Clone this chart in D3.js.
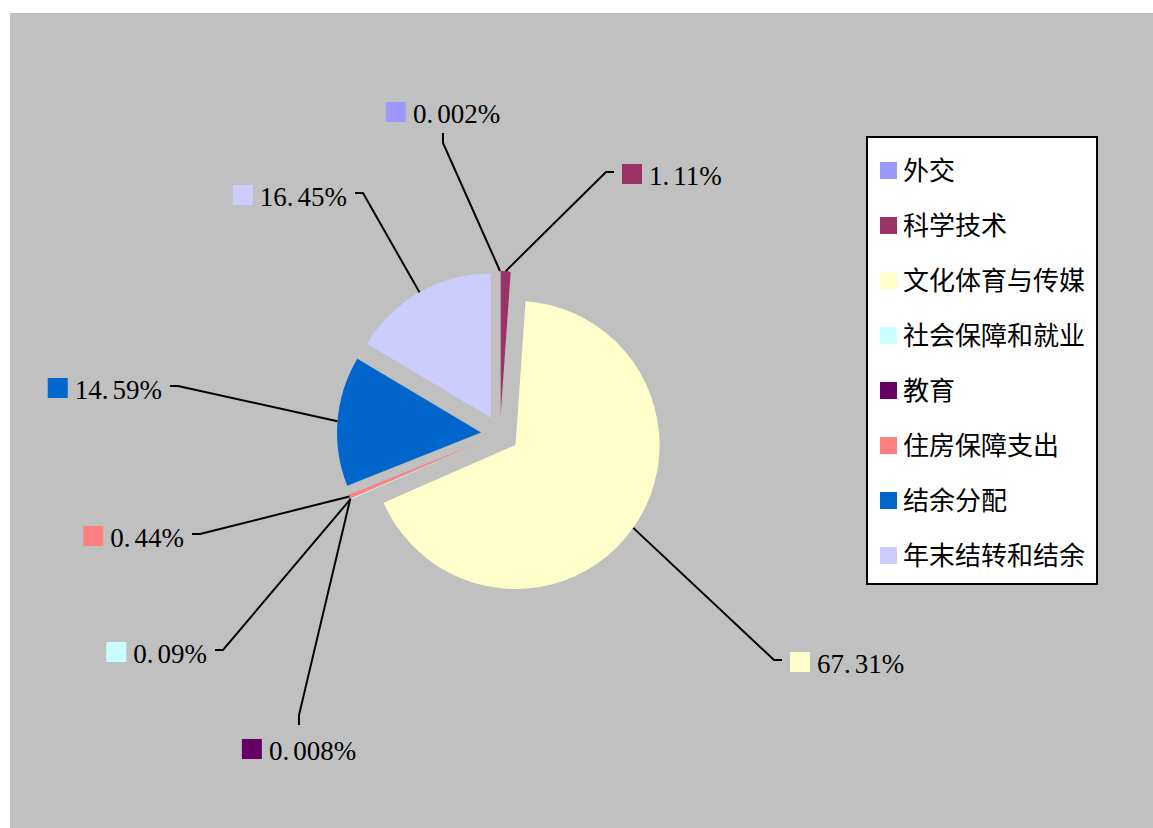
<!DOCTYPE html>
<html>
<head>
<meta charset="utf-8">
<script src="https://cdn.jsdelivr.net/npm/d3@7"></script>
<style>
  body { margin: 0; background: #fff; }
</style>
</head>
<body>
<div id="chart"></div>
<script>
// 数据
const categories = ["外交", "科学技术", "文化体育与传媒", "社会保障和就业", "教育", "住房保障支出", "结余分配", "年末结转和结余"];
const shares = [0.002, 1.11, 67.31, 0.09, 0.008, 0.44, 14.59, 16.45];
const shareLabels = ["0.002%", "1.11%", "67.31%", "0.09%", "0.008%", "0.44%", "14.59%", "16.45%"];
const sliceColors = ["#9999FF", "#993366", "#FFFFCC", "#CCFFFF", "#660066", "#FF8080", "#0066CC", "#CCCCFF"];

// where each leader line bends (relative to pie centre) and which way the stub points
const labelElbows = [
    [-57, -291, "up"],
    [106, -262, "right"],
    [274, 226, "right"],
    [-277, 216, "left"],
    [-201, 281, "down"],
    [-300, 100, "left"],
    [-322, -48, "left"],
    [-137, -241, "left"]
];

const W = 1153, H = 828;
const cx = 500, cy = 434, R = 144, explode = 19;

const svg = d3.select("#chart")
    .append("svg")
    .attr("width", W)
    .attr("height", H);

// plot background
svg.append("rect")
    .attr("x", 10)
    .attr("y", 13)
    .attr("width", W - 10)
    .attr("height", H - 13)
    .attr("fill", "#C0C0C0");

const pie = d3.pie().sort(null).value(d => d);
const slices = pie(shares);
const arc = d3.arc().innerRadius(0).outerRadius(R);
const mid = s => (s.startAngle + s.endAngle) / 2;

const g = svg.append("g").attr("transform", `translate(${cx},${cy})`);

g.selectAll("path.slice")
    .data(slices)
    .enter()
    .append("path")
    .attr("class", "slice")
    .attr("transform", s => `translate(${explode * Math.sin(mid(s))},${-explode * Math.cos(mid(s))})`)
    .attr("d", arc)
    .attr("fill", (s, i) => sliceColors[i]);

// leader lines + data labels
const stubLen = { left: 8, right: 8, up: 10, down: 10 };
const labelFont = "'Liberation Serif', 'DejaVu Serif', serif";

slices.forEach((s, i) => {
    const a = mid(s);
    const sx = (R + explode) * Math.sin(a);
    const sy = -(R + explode) * Math.cos(a);
    const [ex, ey, dir] = labelElbows[i];
    let tx = ex, ty = ey;
    if (dir === "left") tx -= stubLen.left;
    if (dir === "right") tx += stubLen.right;
    if (dir === "up") ty -= stubLen.up;
    if (dir === "down") ty += stubLen.down;

    g.append("path")
        .attr("d", `M${sx},${sy}L${ex},${ey}L${tx},${ty}`)
        .attr("fill", "none")
        .attr("stroke", "#000")
        .attr("stroke-width", 2);

    const lab = g.append("g");
    const txt = lab.append("text")
        .attr("font-family", labelFont)
        .attr("font-size", "27px")
        .attr("fill", "#000");
    // wide gap after the decimal point, like the original font
    const parts = shareLabels[i].split(".");
    txt.append("tspan").text(parts[0] + ".");
    txt.append("tspan").attr("dx", 4).text(parts[1]);
    const tw = txt.node().getComputedTextLength() + 4;
    const total = 20 + 7 + tw;

    let bx, by;
    if (dir === "left") { bx = tx - 8 - total; by = ty - 8; }
    else if (dir === "right") { bx = tx + 8; by = ty - 8; }
    else if (dir === "up") { bx = tx - total / 2; by = ty - 11 - 20; }
    else { bx = tx - total / 2; by = ty + 14; }

    lab.insert("rect", "text")
        .attr("x", bx)
        .attr("y", by)
        .attr("width", 20)
        .attr("height", 20)
        .attr("fill", sliceColors[i]);
    txt.attr("x", bx + 27).attr("y", by + 21);
});

// legend
const legend = svg.append("g");
legend.append("rect")
    .attr("x", 867)
    .attr("y", 137)
    .attr("width", 230)
    .attr("height", 447)
    .attr("fill", "#fff")
    .attr("stroke", "#000")
    .attr("stroke-width", 2);

const items = legend.selectAll("g.item")
    .data(categories)
    .enter()
    .append("g")
    .attr("class", "item")
    .attr("transform", (d, i) => `translate(880,${162 + i * 55})`);

items.append("rect")
    .attr("width", 17)
    .attr("height", 17)
    .attr("fill", (d, i) => sliceColors[i]);

items.append("text")
    .attr("x", 23)
    .attr("y", 18)
    .attr("font-family", "'Noto Sans CJK SC', sans-serif")
    .attr("font-size", "26px")
    .attr("fill", "#000")
    .text(d => d);
</script>
</body>
</html>
